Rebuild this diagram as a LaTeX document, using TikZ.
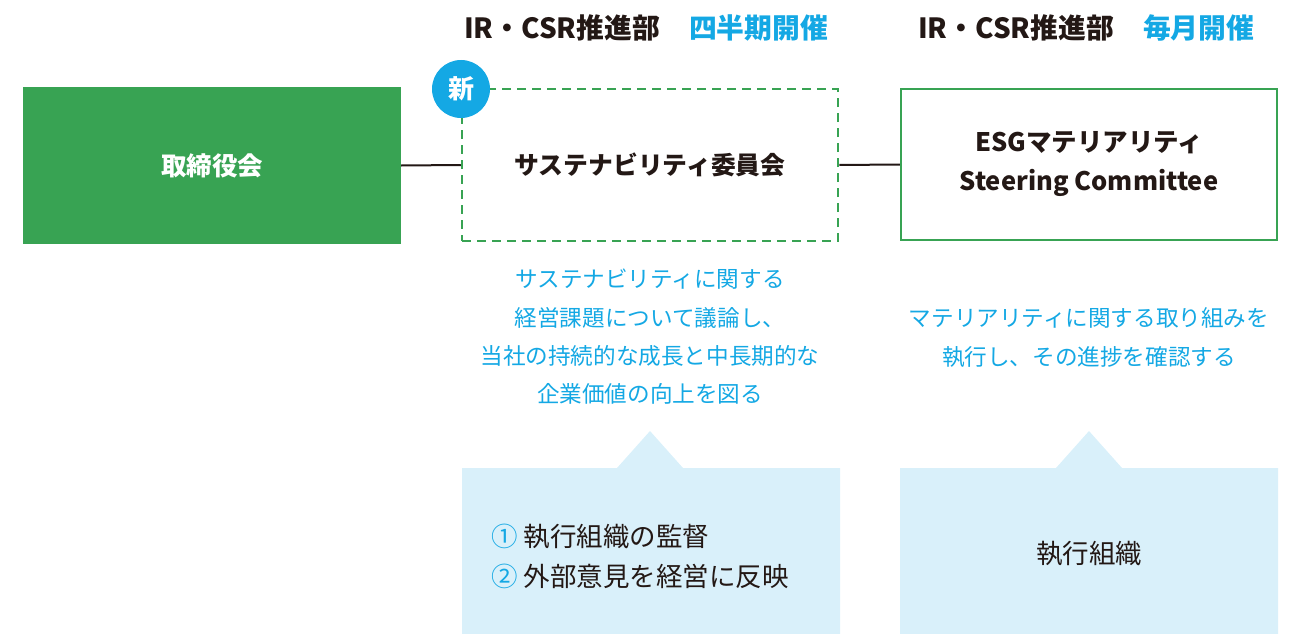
\documentclass[tikz,border=0pt]{standalone}
\usepackage{fontspec}
\setmainfont{Noto Sans CJK JP}
\definecolor{grn}{HTML}{38A353}
\definecolor{blu}{HTML}{14A8E4}
\definecolor{ink}{HTML}{231815}
\definecolor{pale}{HTML}{D9F0FA}
\begin{document}
\begin{tikzpicture}[x=1pt,y=-1pt,
  title/.style={font=\fontsize{27.8}{32}\selectfont\bfseries,text=ink,inner sep=0},
  body/.style={font=\fontsize{22.6}{38.3}\selectfont,text=blu,align=center,inner sep=0},
  conn/.style={draw=ink,line width=2pt},
  boxtext/.style={font=\fontsize{25.5}{39}\selectfont\bfseries,align=center,inner sep=0}]
\useasboundingbox (0,0) rectangle (1293,634);
% headers
\node[title,anchor=west] (h1) at (464,28) {IR・CSR推進部\hspace{1.05em}\textcolor{blu}{四半期開催}};
\node[title,anchor=west] (h2) at (918,28) {IR・CSR推進部\hspace{1.05em}\textcolor{blu}{毎月開催}};
% boxes
\node[fill=grn,minimum width=378,minimum height=157,inner sep=0] (board) at (212,165.5) {};
\node[boxtext,text=white] (boardt) at (board.center) {取締役会};
\node[draw=grn,dashed,dash pattern=on 9pt off 6pt,line width=2.5pt,minimum width=376,minimum height=152,inner sep=0] (sus) at (650,165) {};
\node[boxtext,text=ink,font=\fontsize{24.8}{39}\selectfont\bfseries] (sust) at (sus.center) {サステナビリティ委員会};
\node[draw=grn,line width=2.5pt,minimum width=376,minimum height=151,inner sep=0] (esg) at (1089,164.5) {};
\node[boxtext,text=ink] (esgt) at (esg.center) {ESGマテリアリティ\\Steering Committee};
% new badge
\node[circle,fill=blu,minimum size=58,inner sep=0,font=\fontsize{26}{30}\selectfont\bfseries,text=white] (new) at (461,89) {新};
% connectors
\draw[conn] (board.east) -- (sus.west);
\draw[conn] (sus.east) -- (esg.west);
% descriptions
\node[body] (d1) at (650,337) {サステナビリティに関する\\経営課題について議論し、\\当社の持続的な成長と中長期的な\\企業価値の向上を図る};
\node[body] (d2) at (1089,337.5) {マテリアリティに関する取り組みを\\執行し、その進捗を確認する};
% callouts
\coordinate (c1) at (650,431);
\coordinate (c2) at (1089,431);
\fill[pale] (462,468) -- (617,468) -- (c1) -- (683,468) -- (840,468) -- (840,634) -- (462,634) -- cycle;
\fill[pale] (900,468) -- (1056,468) -- (c2) -- (1122,468) -- (1278,468) -- (1278,634) -- (900,634) -- cycle;
\node[font=\fontsize{26.5}{40}\selectfont,text=ink,align=left,anchor=west,inner sep=0] (l1) at (491,556) {\textcolor{blu}{①} 執行組織の監督\\\textcolor{blu}{②} 外部意見を経営に反映};
\node[font=\fontsize{26.5}{30}\selectfont,text=ink,inner sep=0] (l2) at (1089,554) {執行組織};
\end{tikzpicture}
\end{document}
